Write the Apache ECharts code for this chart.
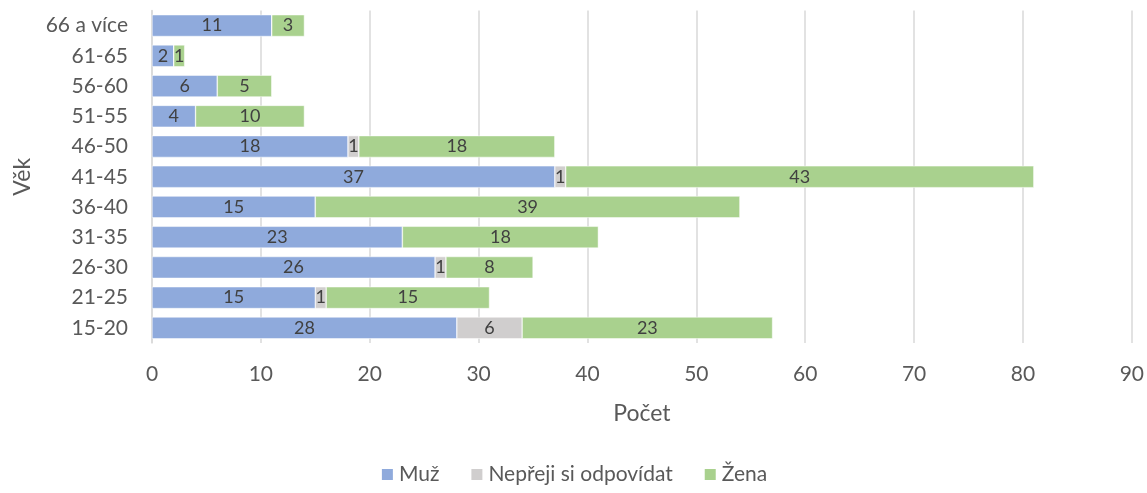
<!DOCTYPE html>
<html>
<head>
<meta charset="utf-8">
<script src="https://cdn.jsdelivr.net/npm/echarts@6/dist/echarts.min.js"></script>
<style>
  html, body { margin: 0; padding: 0; background: #fff; }
  #chart { width: 1147px; height: 493px; }
</style>
</head>
<body>
<div id="chart"></div>
<script>
// kategorie odspodu nahoru
let categories = ['15-20', '21-25', '26-30', '31-35', '36-40', '41-45', '46-50', '51-55', '56-60', '61-65', '66 a více']
let muz = [28, 15, 26, 23, 15, 37, 18, 4, 6, 2, 11]
let neprejiSi = [6, 1, 1, 0, 0, 1, 1, 0, 0, 0, 0]
let zena = [23, 15, 8, 18, 39, 43, 18, 10, 5, 1, 3]
let xTicks = [0, 10, 20, 30, 40, 50, 60, 70, 80, 90]

let names = ['Muž', 'Nepřeji si odpovídat', 'Žena']
let colors = ['#8FAADC', '#D0CECE', '#A9D18E']
let values = [muz, neprejiSi, zena]

let font = 'Lato, "Open Sans", sans-serif'

let seriesData = []
for (let i = 0; i < names.length; i++) {
  seriesData.push({
    name: names[i],
    type: 'bar',
    stack: 'vek',
    barWidth: '72%',
    data: values[i],
    itemStyle: { color: colors[i], borderColor: '#fff', borderWidth: 0.5 },
    label: {
      show: true,
      position: 'inside',
      color: '#404040',
      fontSize: 18,
      fontFamily: font,
      // nuly nezobrazovat
      formatter: p => (p.value ? p.value : '')
    }
  })
}

let HChart = echarts.init(document.getElementById('chart'))
let option = {
  animation: false,
  textStyle: { fontFamily: font },
  legend: {
    top: 464,
    left: 'center',
    padding: 0,
    itemWidth: 13,
    itemHeight: 13,
    itemGap: 30,
    icon: 'rect',
    textStyle: { color: '#595959', fontSize: 21, fontFamily: font },
    data: names
  },
  grid: {
    top: 10.5,
    left: 152,
    right: 14,
    bottom: 150
  },
  xAxis: {
    type: 'value',
    min: xTicks[0],
    max: xTicks[xTicks.length - 1],
    interval: 10,
    name: 'Počet',
    nameLocation: 'middle',
    nameGap: 59,
    nameTextStyle: { color: '#595959', fontSize: 23, fontFamily: font },
    axisLine: { show: false },
    axisTick: { show: false },
    axisLabel: { color: '#595959', fontSize: 21, margin: 21, fontFamily: font },
    splitLine: { lineStyle: { color: '#D9D9D9', width: 1.5 } }
  },
  yAxis: {
    type: 'category',
    data: categories,
    name: 'Věk',
    nameLocation: 'middle',
    nameGap: 118,
    nameRotate: 90,
    nameTextStyle: { color: '#595959', fontSize: 23, fontFamily: font },
    axisLine: { show: true, lineStyle: { color: '#D9D9D9', width: 1.5 } },
    axisTick: { show: false },
    axisLabel: { color: '#595959', fontSize: 21, margin: 24, fontFamily: font }
  },
  series: seriesData
}
HChart.setOption(option)
</script>
</body>
</html>
